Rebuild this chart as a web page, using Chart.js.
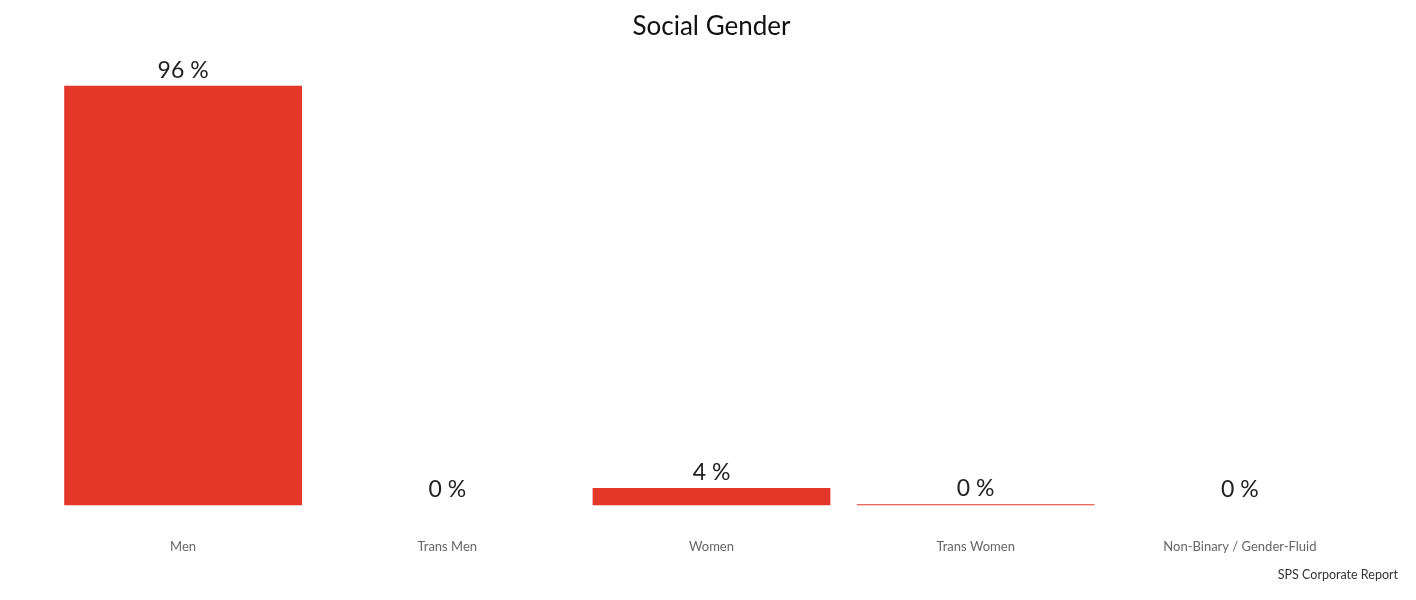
<!DOCTYPE html>
<html><head><meta charset="utf-8">
<script src="https://cdn.jsdelivr.net/npm/chart.js@4"></script>
<style>html,body{margin:0;padding:0;background:#fff}#wrap{width:1416px;height:600px}</style>
</head><body><div id="wrap"><canvas id="c"></canvas></div>
<script>
const categories = ['Men', 'Trans Men', 'Women', 'Trans Women', 'Non-Binary / Gender-Fluid'];
const values = [96, 0, 4, 0.25, 0];
const valueLabels = ['96 %', '0 %', '4 %', '0 %', '0 %'];
const titleText = 'Social Gender';
const sourceText = 'SPS Corporate Report';

const labelPlugin = {
  id: 'valLabels',
  afterDatasetsDraw(chart) {
    const ctx = chart.ctx;
    const meta = chart.getDatasetMeta(0);
    ctx.save();
    ctx.font = '23px Lato';
    ctx.fillStyle = '#222';
    ctx.textAlign = 'center';
    ctx.textBaseline = 'bottom';
    meta.data.forEach((bar, i) => {
      ctx.fillText(valueLabels[i], bar.x, bar.y - 4);
    });
    ctx.font = '12.5px Lato';
    ctx.fillStyle = '#333';
    ctx.textAlign = 'right';
    ctx.textBaseline = 'middle';
    ctx.fillText(sourceText, 1398, 575);
    ctx.restore();
  }
};

new Chart(document.getElementById('c'), {
  type: 'bar',
  data: { labels: categories, datasets: [{ data: values, backgroundColor: '#E43629', categoryPercentage: 0.9, barPercentage: 1 }] },
  options: {
    responsive: true, maintainAspectRatio: false, animation: false,
    layout: { padding: { left: 51, right: 44, top: 0, bottom: 19 } },
    plugins: {
      legend: { display: false }, tooltip: { enabled: false },
      title: { display: true, text: titleText, font: { family: 'Lato', size: 26, weight: 'normal' }, color: '#111', padding: { top: 11, bottom: 26 } }
    },
    scales: {
      x: { grid: { display: false }, border: { display: false }, ticks: { padding: 26, color: '#666', font: { family: 'Lato', size: 13 } } },
      y: { display: false, min: 0, max: 100 }
    }
  },
  plugins: [labelPlugin]
});
</script></body></html>
